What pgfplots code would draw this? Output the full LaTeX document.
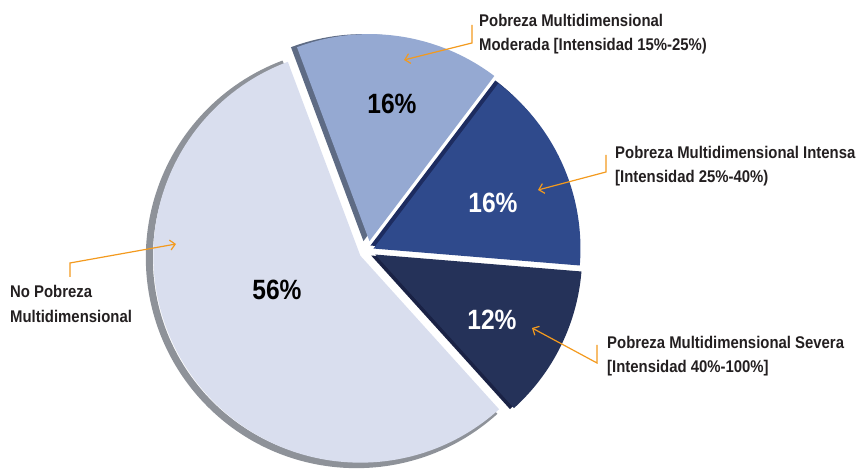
\documentclass[border=0pt]{standalone}
\usepackage{fontspec}
\setmainfont{Liberation Sans}[FakeStretch=0.88]
\usepackage{pgfplots}
\pgfplotsset{compat=1.18}
\usepackage{pgfplotstable}
\usetikzlibrary{arrows.meta}
\definecolor{cNo}{HTML}{D9DEEE}
\definecolor{sNo}{HTML}{8E9299}
\definecolor{cMod}{HTML}{95A9D2}
\definecolor{sMod}{HTML}{5E6B84}
\definecolor{cInt}{HTML}{2F4A8C}
\definecolor{sInt}{HTML}{1D2C60}
\definecolor{cSev}{HTML}{253259}
\definecolor{sSev}{HTML}{1A2245}
\definecolor{lead}{HTML}{F39A1E}
\definecolor{txt}{HTML}{231F20}

\pgfplotstableread{
label value explode
Moderada 16 10
Intensa 16 6
Severa 12 8
NoPobreza 56 9
}\piedata

\newcommand\getval[3]{\pgfplotstablegetelem{#1}{#2}\of\piedata\global\let#3\pgfplotsretval}
\getval{0}{value}\vA \getval{1}{value}\vB \getval{2}{value}\vC \getval{3}{value}\vD
\getval{0}{explode}\eA \getval{1}{explode}\eB \getval{2}{explode}\eC \getval{3}{explode}\eD
\pgfmathsetmacro\aA{110.5}
\pgfmathsetmacro\aB{\aA-3.6*\vA}
\pgfmathsetmacro\aC{\aB-3.6*\vB}
\pgfmathsetmacro\aD{\aC-3.6*\vC}
\def\R{207}\def\cx{368}\def\cy{219}

% start angle, value, explode, face, shadow, shadow shift
\newcommand\slice[6]{%
 \pgfmathsetmacro\sa{#1}%
 \pgfmathsetmacro\ea{#1-3.6*#2}%
 \pgfmathsetmacro\ma{(\sa+\ea)/2}%
 \pgfmathsetmacro\ox{\cx+#3*cos(\ma)}%
 \pgfmathsetmacro\oy{\cy+#3*sin(\ma)}%
 \fill[#5] ([shift={#6}]axis cs:\ox,\oy) -- ++(\sa:\R bp) arc[start angle=\sa,end angle=\ea,radius=\R bp] -- cycle;
 \fill[#4] (axis cs:\ox,\oy) -- ++(\sa:\R bp) arc[start angle=\sa,end angle=\ea,radius=\R bp] -- cycle;
}

\begin{document}%
\begin{tikzpicture}
\begin{axis}[hide axis, scale only axis, width=863bp, height=470bp,
  xmin=0, xmax=863, ymin=0, ymax=470, clip=false]
\coordinate (bl) at (axis cs:0,0);
\coordinate (tr) at (axis cs:863,470);
\pgfplotsextra{
 % No pobreza
 \pgfmathsetmacro\sa{\aD}%
 \pgfmathsetmacro\ea{\aD-3.6*\vD}%
 \pgfmathsetmacro\ma{(\sa+\ea)/2}%
 \pgfmathsetmacro\ox{\cx+\eD*cos(\ma)}%
 \pgfmathsetmacro\oy{\cy+\eD*sin(\ma)}%
 \draw[sNo, line width=7bp] ([shift={(-4bp,-2bp)}]axis cs:\ox,\oy) ++(\sa:\R bp) arc[start angle=\sa,end angle=\ea,radius=\R bp];
 \fill[cNo] (axis cs:\ox,\oy) -- ++(\sa:\R bp) arc[start angle=\sa,end angle=\ea,radius=\R bp] -- cycle;
 \slice{\aA}{\vA}{\eA}{cMod}{sMod}{(-6bp,0bp)}
 \slice{\aB}{\vB}{\eB}{cInt}{sInt}{(-3bp,3bp)}
 \slice{\aC}{\vC}{\eC}{cSev}{sSev}{(-4bp,-1bp)}
}
% percentage labels
\tikzset{pct/.style={font=\bfseries\fontsize{28}{28}\selectfont}}
\node[pct, text=black] at (axis cs:392,366) {16\%};
\node[pct, text=white] at (axis cs:493,267) {16\%};
\node[pct, text=white] at (axis cs:492,150) {12\%};
\node[pct, text=black] at (axis cs:277,180) {56\%};
% leaders
\tikzset{ld/.style={lead, line width=1.2bp, -{Straight Barb[length=5bp,width=10bp]}}}
\draw[ld] (axis cs:472,445) -- (axis cs:472,427) -- (axis cs:404,410);
\draw[ld] (axis cs:606,315) -- (axis cs:606,298) -- (axis cs:538,280);
\draw[ld] (axis cs:597,125) -- (axis cs:597,107) -- (axis cs:532,142);
\draw[ld] (axis cs:70,193) -- (axis cs:70,207) -- (axis cs:176,226);
% category labels
\tikzset{lab/.style={font=\bfseries\fontsize{17}{24}\selectfont, text=txt, align=left, anchor=west, inner sep=0pt}}
\node[lab] at (axis cs:479,436) {Pobreza Multidimensional\\Moderada [Intensidad 15\%-25\%)};
\node[lab] at (axis cs:615,304) {Pobreza Multidimensional Intensa\\{[}Intensidad 25\%-40\%)};
\node[lab] at (axis cs:607,114) {Pobreza Multidimensional Severa\\{[}Intensidad 40\%-100\%]};
\node[lab, font=\bfseries\fontsize{17}{25}\selectfont] at (axis cs:10,166) {No Pobreza\\Multidimensional};
\end{axis}
\pgfresetboundingbox
\path (bl) rectangle (tr);
\end{tikzpicture}%
\end{document}
